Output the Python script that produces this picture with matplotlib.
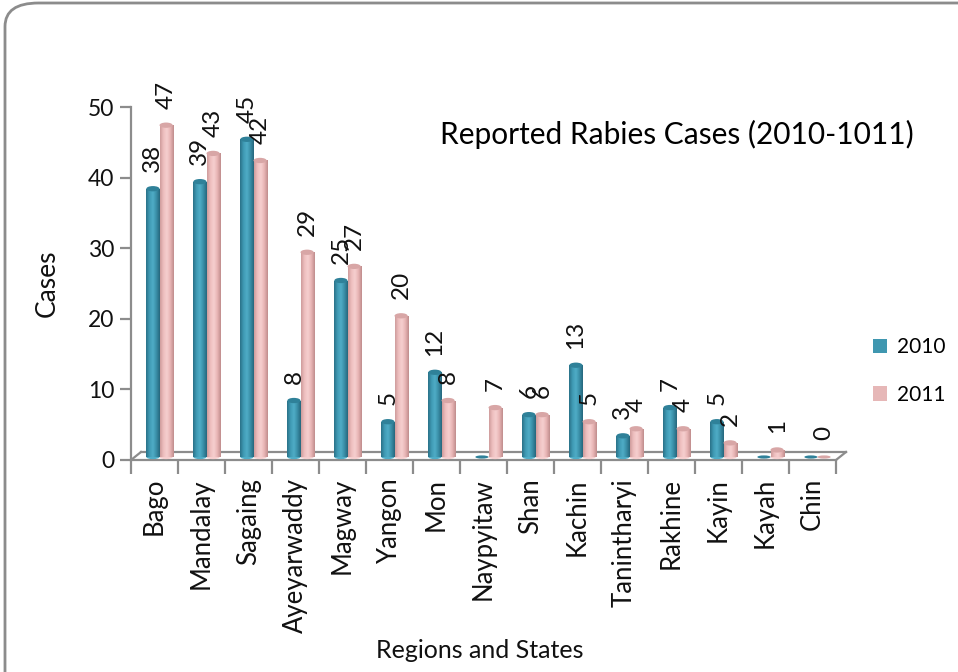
import numpy as np
import matplotlib
matplotlib.use("Agg")
import matplotlib.pyplot as plt
import matplotlib.transforms as mtransforms
from matplotlib.patches import Ellipse, FancyBboxPatch, Patch
from matplotlib.lines import Line2D
from matplotlib.colors import LinearSegmentedColormap

plt.rcParams['font.family'] = ['Lato', 'DejaVu Sans']

regions = ["Bago", "Mandalay", "Sagaing", "Ayeyarwaddy", "Magway", "Yangon", "Mon",
           "Naypyitaw", "Shan", "Kachin", "Tanintharyi", "Rakhine", "Kayin", "Kayah", "Chin"]
cases_2010 = [38, 39, 45, 8, 25, 5, 12, 0, 6, 13, 3, 7, 5, 0, 0]
cases_2011 = [47, 43, 42, 29, 27, 20, 8, 7, 6, 5, 4, 4, 2, 1, 0]
series_names = ["2010", "2011"]
yticks = [0, 10, 20, 30, 40, 50]

W, H, DPI = 958, 672, 100
fig = plt.figure(figsize=(W / DPI, H / DPI), dpi=DPI)
fig.patch.set_facecolor("white")

# rounded chart-area frame
frame = FancyBboxPatch((5 / W, -0.2), 1.2, 1.2 - 3 / H,
                       boxstyle="round,pad=0,rounding_size=0.035",
                       transform=fig.transFigure, facecolor="white",
                       edgecolor="#8c8c8c", linewidth=2.0, zorder=-10)
fig.patches.append(frame)

ax_l, ax_r, ax_b, ax_t = 131, 836, 460, 107
ax = fig.add_axes([ax_l / W, 1 - ax_b / H, (ax_r - ax_l) / W, (ax_b - ax_t) / H])
ax.set_zorder(1)
ax.set_facecolor("none")
n = len(regions)
ax.set_xlim(-0.5, n - 0.5)
ax.set_ylim(0, 50)
for s in ["top", "right", "bottom"]:
    ax.spines[s].set_visible(False)
ax.spines["left"].set_color("#8c8c8c")
ax.spines["left"].set_linewidth(1.6)

# y ticks
ax.set_yticks(yticks)
ax.set_yticklabels([str(v) for v in yticks], fontsize=16.5, color="#111111")
ax.tick_params(axis="y", length=8, width=1.6, color="#8c8c8c", pad=4)

# category ticks at boundaries, labels at centres
ax.set_xticks(np.arange(-0.5, n, 1.0))
ax.set_xticklabels([])
ax.tick_params(axis="x", which="major", length=10, width=1.6, color="#8c8c8c")
ax.set_xticks(np.arange(n), minor=True)
ax.set_xticklabels(regions, minor=True, rotation=90, fontsize=18.5, color="#111111")
ax.tick_params(axis="x", which="minor", length=0, pad=13)

ax.set_ylabel("Cases", fontsize=19, color="#111111", labelpad=20)
fig.text(480 / W, 1 - 650 / H, "Regions and States", fontsize=18,
         color="#111111", ha="center", va="center")

# 3D floor: front edge in data space, back edge shifted in pixels
back = ax.transData + mtransforms.ScaledTranslation(10 / DPI, 8 / DPI, fig.dpi_scale_trans)
floor_kw = dict(color="#8c8c8c", lw=1.6, clip_on=False, zorder=1)
ax.add_line(Line2D([-0.5, n - 0.5], [0, 0], **floor_kw))
ax.add_line(Line2D([-0.5, n - 0.5], [0, 0], transform=back, **floor_kw))
inv = ax.transData.inverted()
for xe in (-0.5, n - 0.5):
    q0 = (xe, 0)
    q1 = inv.transform(back.transform((xe, 0)))
    ax.add_line(Line2D([q0[0], q1[0]], [q0[1], q1[1]], **floor_kw))

# bars sit mid-depth on the floor
mid = ax.transData + mtransforms.ScaledTranslation(5 / DPI, 3 / DPI, fig.dpi_scale_trans)

bw = 0.28
palettes = {
    "2010": dict(edge=["#2a7188", "#3f9ab4", "#4fadc7", "#3a8ea7", "#26677c"],
                 top="#2f8199", legend="#3f97b0"),
    "2011": dict(edge=["#cf9c9c", "#eebfbf", "#f6cfcf", "#e7b4b4", "#c08d8d"],
                 top="#d8a6a6", legend="#e6b7b7"),
}
offsets = {"2010": -bw / 2, "2011": bw / 2}
data = {"2010": cases_2010, "2011": cases_2011}

for name in series_names:
    pal = palettes[name]
    cmap = LinearSegmentedColormap.from_list(name, pal["edge"])
    grad = np.linspace(0, 1, 64).reshape(1, -1)
    xs = np.arange(n) + offsets[name]
    vals = data[name]
    bars = ax.bar(xs, vals, width=bw, color="none", edgecolor="none",
                  transform=mid, zorder=3)
    for x, v, b in zip(xs, vals, bars):
        if v > 0:
            im = ax.imshow(grad, cmap=cmap, aspect="auto",
                           extent=(x - bw / 2, x + bw / 2, 0, v),
                           transform=mid, zorder=3, interpolation="bilinear")
            im.set_clip_path(b)
            ax.add_patch(Ellipse((x, v), bw, 0.75, transform=mid,
                                 facecolor=pal["top"], edgecolor="none", zorder=4))
            ax.add_patch(Ellipse((x, 0), bw, 0.6, transform=mid,
                                 facecolor=pal["edge"][2], edgecolor="none", zorder=2))
        else:
            ax.add_patch(Ellipse((x, v), bw, 0.45, transform=mid,
                                 facecolor=pal["top"], edgecolor="none", zorder=4))
        if not (name == "2010" and v == 0):
            ax.annotate(str(v), (x, v), xycoords=mid, xytext=(0, 12),
                        textcoords="offset points", rotation=90, ha="center",
                        va="bottom", fontsize=17.5, color="#111111", zorder=5,
                        annotation_clip=False)

ax.set_xlim(-0.5, n - 0.5)
ax.set_ylim(0, 50)

fig.text(440 / W, 1 - 134 / H, "Reported Rabies Cases (2010-1011)", fontsize=21.5,
         color="#000000", ha="left", va="center")

handles = [Patch(facecolor=palettes[s]["legend"], edgecolor="none") for s in series_names]
fig.legend(handles, series_names, loc="center left",
           bbox_to_anchor=(854 / W, 1 - 371 / H), frameon=False, fontsize=15,
           handlelength=0.7, handleheight=0.7, handletextpad=0.45,
           labelspacing=1.3)

fig.savefig("out.png", dpi=DPI)
